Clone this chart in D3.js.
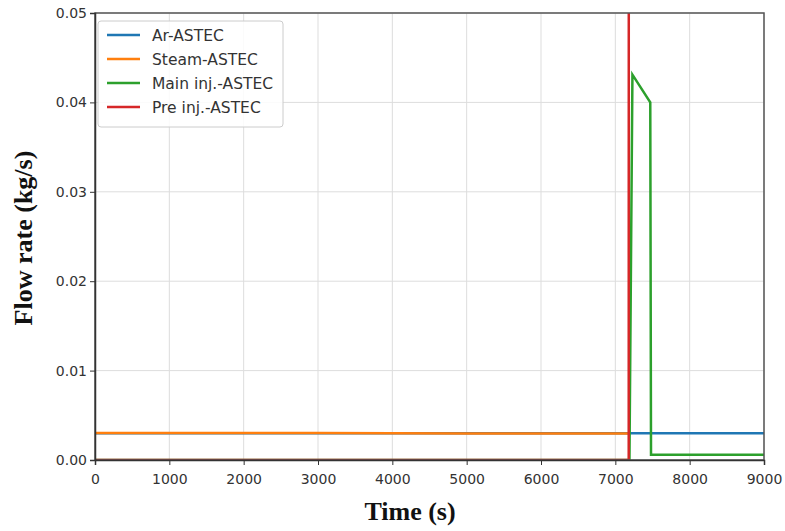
<!DOCTYPE html>
<html>
<head>
<meta charset="utf-8">
<script src="https://cdn.jsdelivr.net/npm/d3@7"></script>
<style>
  body { margin: 0; background: #fff; }
  .tick text { font-family: "DejaVu Sans", sans-serif; font-size: 14px; fill: #333; }
</style>
</head>
<body>
<svg id="chart"></svg>
<script>
const xTicks = [0, 1000, 2000, 3000, 4000, 5000, 6000, 7000, 8000, 9000];
const yTicks = [0, 0.01, 0.02, 0.03, 0.04, 0.05];

const seriesNames = ["Ar-ASTEC", "Steam-ASTEC", "Main inj.-ASTEC", "Pre inj.-ASTEC"];
const seriesColors = ["#1f77b4", "#ff7f0e", "#2ca02c", "#d62728"];

const arTime = [0, 7185, 9000];
const arFlow = [0.0030, 0.0030, 0.0030];
const steamTime = [0, 300, 3000, 5000, 7185];
const steamFlow = [0.00302, 0.00303, 0.00302, 0.00297, 0.00296];
const mainTime = [0, 7190, 7230, 7470, 7480, 9000];
const mainFlow = [0, 0, 0.0431, 0.0400, 0.0006, 0.0006];
const preTime = [0, 7180, 7185];
const preFlow = [0, 0, 0.3];

const series = [
  arTime.map((t, i) => [t, arFlow[i]]),
  steamTime.map((t, i) => [t, steamFlow[i]]),
  mainTime.map((t, i) => [t, mainFlow[i]]),
  preTime.map((t, i) => [t, preFlow[i]])
];

const W = 785, H = 531;
const m = { left: 95, right: 21, top: 13, bottom: 71 };
const svg = d3.select("#chart").attr("width", W).attr("height", H);

const x = d3.scaleLinear().domain([0, 9000]).range([m.left, W - m.right]);
const y = d3.scaleLinear().domain([0, 0.05]).range([H - m.bottom, m.top]);

// grid
svg.append("g").selectAll("line").data(xTicks).join("line")
  .attr("x1", d => x(d)).attr("x2", d => x(d))
  .attr("y1", y(0)).attr("y2", y(0.05))
  .attr("stroke", "#ddd").attr("stroke-width", 1);
svg.append("g").selectAll("line").data(yTicks).join("line")
  .attr("x1", x(0)).attr("x2", x(9000))
  .attr("y1", d => y(d)).attr("y2", d => y(d))
  .attr("stroke", "#ddd").attr("stroke-width", 1);

// clip
svg.append("defs").append("clipPath").attr("id", "clip")
  .append("rect").attr("x", x(0)).attr("y", y(0.05))
  .attr("width", x(9000) - x(0)).attr("height", y(0) - y(0.05));

const line = d3.line().x(d => x(d[0])).y(d => y(d[1]));
svg.append("g").attr("clip-path", "url(#clip)")
  .selectAll("path").data(series).join("path")
  .attr("d", line)
  .attr("fill", "none")
  .attr("stroke", (d, i) => seriesColors[i])
  .attr("stroke-width", 2.5);

// frame
svg.append("rect")
  .attr("x", x(0)).attr("y", y(0.05))
  .attr("width", x(9000) - x(0)).attr("height", y(0) - y(0.05))
  .attr("fill", "none").attr("stroke", "#555").attr("stroke-width", 1.5);

// axes
const xAxis = svg.append("g").attr("transform", `translate(0,${y(0)})`)
  .call(d3.axisBottom(x).tickValues(xTicks).tickFormat(d3.format("d")).tickSize(5).tickPadding(9));
const yAxis = svg.append("g").attr("transform", `translate(${x(0)},0)`)
  .call(d3.axisLeft(y).tickValues(yTicks).tickFormat(d3.format(".2f")).tickSize(5).tickPadding(3));
[xAxis, yAxis].forEach(a => {
  a.select(".domain").attr("stroke", "#333").attr("stroke-width", 1.5);
  a.selectAll(".tick line").attr("stroke", "#333");
});

// axis titles
svg.append("text")
  .attr("x", 410).attr("y", 520)
  .attr("text-anchor", "middle")
  .attr("font-family", "Liberation Serif, serif").attr("font-weight", "bold")
  .attr("font-size", 26).attr("fill", "#111")
  .text("Time (s)");
svg.append("text")
  .attr("transform", "translate(32,238) rotate(-90)")
  .attr("text-anchor", "middle")
  .attr("font-family", "Liberation Serif, serif").attr("font-weight", "bold")
  .attr("font-size", 26).attr("fill", "#111")
  .text("Flow rate (kg/s)");

// legend
const lg = svg.append("g").attr("transform", "translate(98,21)");
lg.append("rect").attr("width", 185).attr("height", 106).attr("rx", 3)
  .attr("fill", "#fff").attr("fill-opacity", 0.85)
  .attr("stroke", "#ccc").attr("stroke-width", 1);
seriesNames.forEach((name, i) => {
  const yy = 14 + i * 24;
  lg.append("line").attr("x1", 9).attr("x2", 42).attr("y1", yy).attr("y2", yy)
    .attr("stroke", seriesColors[i]).attr("stroke-width", 2.5);
  lg.append("text").attr("x", 54).attr("y", yy + 5.5)
    .attr("font-family", "DejaVu Sans, sans-serif").attr("font-size", 15.5).attr("fill", "#333")
    .text(name);
});
</script>
</body>
</html>
